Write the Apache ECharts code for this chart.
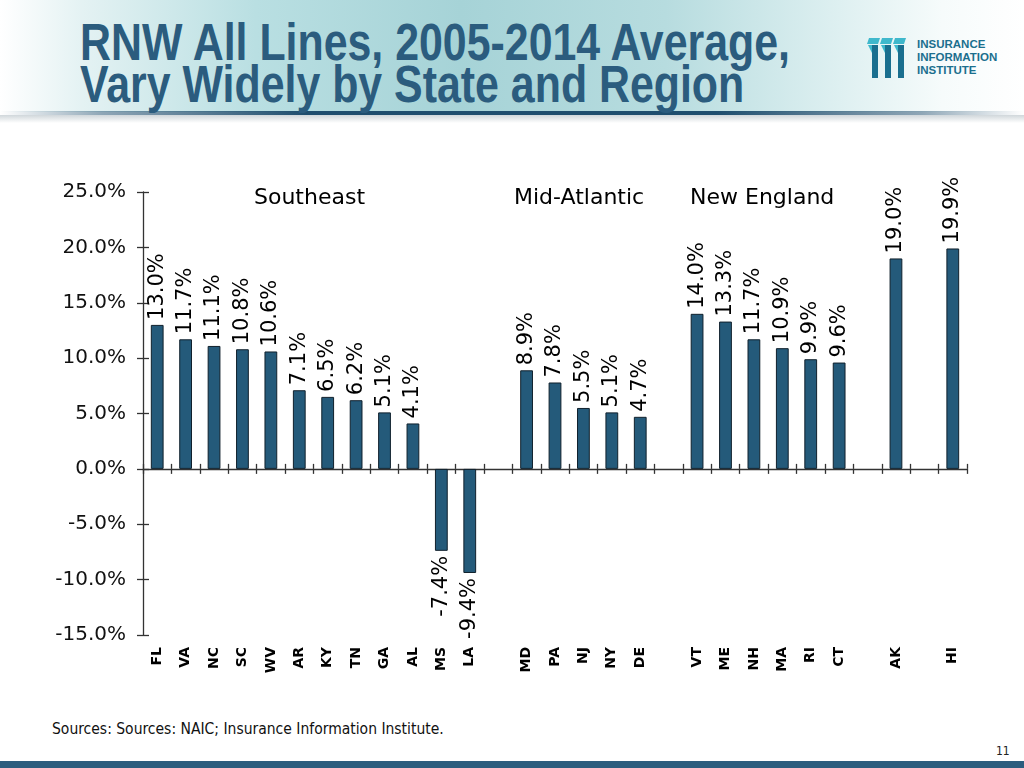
<!DOCTYPE html>
<html>
<head>
<meta charset="utf-8">
<script src="https://cdn.jsdelivr.net/npm/echarts@6/dist/echarts.min.js"></script>
<style>
  html, body { margin:0; padding:0; background:#fff; }
  #page { position:relative; width:1024px; height:768px; overflow:hidden; background:#fff; }
  #band { position:absolute; left:0; top:0; width:1024px; height:112px;
    background: linear-gradient(to right, #ffffff 0%, #e4f2f3 8%, #b9dfe2 25%, #a6d3d7 45%, #b7dcdf 65%, #def0f1 82%, #f6fbfb 92%, #ffffff 100%); }
  #rule { position:absolute; left:0; top:111px; width:1024px; height:4px;
    background: linear-gradient(to right, rgba(31,78,110,0) 0%, rgba(31,78,110,0.5) 10%, #1f4e6e 30%, #1f4e6e 70%, rgba(31,78,110,0.5) 90%, rgba(31,78,110,0) 100%); }
  #shadow { position:absolute; left:0; top:115px; width:1024px; height:8px;
    background: linear-gradient(to bottom, rgba(120,140,150,0.35), rgba(255,255,255,0)); }
  #title { position:absolute; left:80px; top:22px; font-family:'Liberation Sans',Arial,sans-serif;
    font-weight:bold; font-size:51px; line-height:42px; color:#2b5c7e; white-space:nowrap; transform-origin:0 0; }
  #title span { display:inline-block; }
  #logoText { position:absolute; left:917px; top:38px; font-family:'Liberation Sans','DejaVu Sans',sans-serif; font-weight:bold;
    font-size:11.5px; line-height:13px; color:#1b6f8e; }
  #sources { position:absolute; left:52px; top:720px; font-family:'Liberation Sans Narrow','DejaVu Sans Condensed',sans-serif; font-size:15.5px; color:#111; }
  #pagenum { position:absolute; left:996px; top:744px; font-family:'Liberation Sans Narrow','DejaVu Sans Condensed',sans-serif; font-size:12px; color:#222; }
  #bottombar { position:absolute; left:0; top:761px; width:1024px; height:7px; background:#2c5d7e; }
  #chart { position:absolute; left:0; top:0; width:1024px; height:768px; }
</style>
</head>
<body>
<div id="page">
  <div id="band"></div>
  <div id="rule"></div>
  <div id="shadow"></div>
  <div id="title"><span id="t1">RNW All Lines, 2005-2014 Average,</span><br><span id="t2">Vary Widely by State and Region</span></div>
  <svg style="position:absolute;left:867px;top:37px" width="48" height="42" viewBox="0 0 48 42">
    <g>
      <polygon points="2,1 13,1 11,7 0,7" fill="#3fb8cc"/>
      <polygon points="15,1 26,1 24,7 13,7" fill="#3fb8cc"/>
      <polygon points="28,1 39,1 37,7 26,7" fill="#3fb8cc"/>
      <polygon points="5,8 11,8 11,41 5,41" fill="#1a6f8f"/>
      <polygon points="18,8 24,8 24,41 18,41" fill="#1a6f8f"/>
      <polygon points="31,8 37,8 37,41 31,41" fill="#1a6f8f"/>
      <polygon points="1,8 5,8 5,16" fill="#3fb8cc"/>
      <polygon points="14,8 18,8 18,16" fill="#3fb8cc"/>
      <polygon points="27,8 31,8 31,16" fill="#3fb8cc"/>
    </g>
  </svg>
  <div id="logoText">INSURANCE<br>INFORMATION<br>INSTITUTE</div>
  <div id="sources">Sources: Sources: NAIC; Insurance Information Institute.</div>
  <div id="pagenum">11</div>
  <div id="bottombar"></div>
  <div id="chart"></div>
</div>
<script>
// ---- data ----
const southeastStates = ['FL','VA','NC','SC','WV','AR','KY','TN','GA','AL','MS','LA'];
const southeastValues = [13.0, 11.7, 11.1, 10.8, 10.6, 7.1, 6.5, 6.2, 5.1, 4.1, -7.4, -9.4];
const midAtlanticStates = ['MD','PA','NJ','NY','DE'];
const midAtlanticValues = [8.9, 7.8, 5.5, 5.1, 4.7];
const newEnglandStates = ['VT','ME','NH','MA','RI','CT'];
const newEnglandValues = [14.0, 13.3, 11.7, 10.9, 9.9, 9.6];
const alaskaState = ['AK'];
const alaskaValues = [19.0];
const hawaiiState = ['HI'];
const hawaiiValues = [19.9];
const yTicks = [-15, -10, -5, 0, 5, 10, 15, 20, 25];
const regionLabels = ['Southeast', 'Mid-Atlantic', 'New England'];

// fit title width (line 1 spans ~710px in the reference)
(function fitTitle() {
  const t = document.getElementById('title');
  const w = document.getElementById('t1').getBoundingClientRect().width;
  if (w > 0) t.style.transform = 'scaleX(' + (710 / w) + ')';
})();

// build category axis with single empty slots between groups
const groups = [
  [southeastStates, southeastValues],
  [midAtlanticStates, midAtlanticValues],
  [newEnglandStates, newEnglandValues],
  [alaskaState, alaskaValues],
  [hawaiiState, hawaiiValues]
];
const categories = [];
const values = [];
groups.forEach((g, gi) => {
  if (gi > 0) { categories.push(' '.repeat(gi)); values.push(null); }
  g[0].forEach((c, i) => { categories.push(c); values.push(g[1][i]); });
});

const labelFont = 'DejaVu Sans';
const seriesData = values.map(v => {
  if (v === null) return { value: null };
  const neg = v < 0;
  return {
    value: v,
    label: {
      show: true,
      position: neg ? 'bottom' : 'top',
      rotate: 90,
      align: neg ? 'right' : 'left',
      verticalAlign: 'middle',
      distance: 5,
      formatter: p => p.value.toFixed(1) + '%',
      fontFamily: labelFont,
      fontSize: 21,
      color: '#000'
    }
  };
});

const chart = echarts.init(document.getElementById('chart'), null, { renderer: 'canvas' });
const gridLeft = 143, gridRight = 57, gridTop = 192, gridBottom = 133;

const yMin = yTicks[0], yMax = yTicks[yTicks.length - 1], yInt = yTicks[1] - yTicks[0];
const axisColor = '#333';

chart.setOption({
  animation: false,
  backgroundColor: 'transparent',
  grid: { left: gridLeft, right: gridRight, top: gridTop, bottom: gridBottom },
  xAxis: [
    { type: 'category', data: categories, position: 'bottom',
      axisLine: { show: true, onZero: true, lineStyle: { color: axisColor, width: 1.3 } },
      axisTick: { show: true, length: 5, inside: false, lineStyle: { color: axisColor, width: 1.3 } },
      axisLabel: { show: false }, splitLine: { show: false } },
    { type: 'category', data: categories, position: 'bottom',
      axisLine: { show: false, onZero: true },
      axisTick: { show: true, length: 5, inside: true, lineStyle: { color: axisColor, width: 1.3 } },
      axisLabel: { show: false }, splitLine: { show: false } },
    { type: 'category', data: categories, position: 'bottom',
      axisLine: { show: false, onZero: false },
      axisTick: { show: false },
      axisLabel: { show: true, rotate: 90, interval: 0, margin: 12,
        fontFamily: labelFont, fontWeight: 'bold', fontSize: 14, color: '#000' },
      splitLine: { show: false } }
  ],
  yAxis: [
    { type: 'value', min: yMin, max: yMax, interval: yInt, position: 'left',
      axisLine: { show: true, lineStyle: { color: axisColor, width: 1.3 } },
      axisTick: { show: true, length: 6, inside: false, lineStyle: { color: axisColor, width: 1.3 } },
      axisLabel: { show: true, margin: 17, formatter: v => v.toFixed(1) + '%',
        fontFamily: labelFont, fontSize: 20, color: '#111' },
      splitLine: { show: false } },
    { type: 'value', min: yMin, max: yMax, interval: yInt, position: 'left',
      axisLine: { show: false },
      axisTick: { show: true, length: 6, inside: true, lineStyle: { color: axisColor, width: 1.3 } },
      axisLabel: { show: false }, splitLine: { show: false } }
  ],
  series: [{
    type: 'bar', xAxisIndex: 0, yAxisIndex: 0,
    data: seriesData,
    barWidth: '45%',
    itemStyle: { color: '#245a7a', borderColor: '#10202c', borderWidth: 1 }
  }],
  graphic: [
    { type: 'text', left: 254, top: 187, style: { text: regionLabels[0], fontFamily: labelFont, fontSize: 22, fill: '#000' } },
    { type: 'text', left: 514, top: 187, style: { text: regionLabels[1], fontFamily: labelFont, fontSize: 22, fill: '#000' } },
    { type: 'text', left: 690, top: 187, style: { text: regionLabels[2], fontFamily: labelFont, fontSize: 22, fill: '#000' } }
  ]
});
</script>
</body>
</html>
